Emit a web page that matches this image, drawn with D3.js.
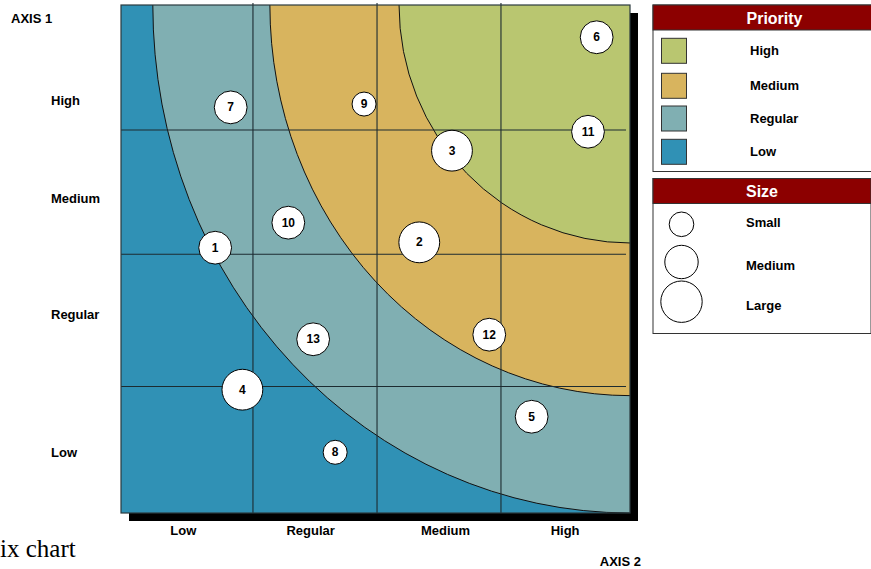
<!DOCTYPE html>
<html>
<head>
<meta charset="utf-8">
<script src="https://cdn.jsdelivr.net/npm/d3@7"></script>
<style>
  body { margin: 0; background: #fff; overflow: hidden; }
  svg { display: block; }
  text { font-family: "Liberation Sans", Arial, sans-serif; font-weight: bold; }
</style>
</head>
<body>
<svg id="chart" width="871" height="569"></svg>
<script>
// Category labels shared by both axes
const levels = ["Low", "Regular", "Medium", "High"];

// Priority zones, drawn from the outermost to the innermost
const priorityNames = ["High", "Medium", "Regular", "Low"];
const priorityColors = ["#B9C670", "#D8B45E", "#80AFB2", "#3091B5"];

// Each zone boundary is a quarter ellipse around the top-right corner:
// where it meets the top edge (axis 2 value) and the right edge (axis 1 value)
const zoneNames = ["Regular", "Medium", "High"];
const zoneTopX = [0.25, 1.17, 2.185];
const zoneSideY = [0.0, 0.924, 2.126];

// Grid dividers in axis units
const gridX = [1.037, 2.012, 2.986];
const gridY = [0.996, 2.037, 3.016];

// Where the category labels sit along each axis
const xLabelAt = [0.49, 1.49, 2.55, 3.49];
const yLabelAt = [0.48, 1.56, 2.48, 3.25];

// Items
const itemIds = [1, 2, 3, 4, 5, 6, 7, 8, 9, 10, 11, 12, 13];
const itemX = [0.740, 2.344, 2.601, 0.954, 3.227, 3.738, 0.862, 1.683, 1.910, 1.315, 3.670, 2.894, 1.510];
const itemY = [2.089, 2.131, 2.853, 0.971, 0.758, 3.746, 3.194, 0.478, 3.220, 2.286, 3.002, 1.404, 1.368];
const itemSize = ["Medium", "Large", "Large", "Large", "Medium", "Medium", "Medium", "Small", "Small", "Medium", "Medium", "Medium", "Medium"];
const sizeNames = ["Small", "Medium", "Large"];
const sizeRadii = [12, 16.4, 20.4];

const svg = d3.select("#chart");

const plot = { left: 121, top: 5, right: 630, bottom: 513 };
const x = d3.scaleLinear().domain([0, 4]).range([plot.left, plot.right]);
const y = d3.scaleLinear().domain([0, 4]).range([plot.bottom, plot.top]);
const colorOf = d3.scaleOrdinal().domain(priorityNames).range(priorityColors);
const radius = d3.scaleOrdinal().domain(sizeNames).range(sizeRadii);

// Caption
svg.append("text")
  .attr("x", 0).attr("y", 557)
  .style("font-family", "'Liberation Serif', 'Times New Roman', serif")
  .style("font-weight", "normal")
  .style("font-size", "25px")
  .attr("fill", "#000")
  .text("ix chart");

// Drop shadow
svg.append("rect")
  .attr("x", plot.left + 8).attr("y", plot.top + 8)
  .attr("width", plot.right - plot.left).attr("height", plot.bottom - plot.top)
  .attr("fill", "#000");

svg.append("clipPath").attr("id", "plotClip")
  .append("rect")
  .attr("x", plot.left).attr("y", plot.top)
  .attr("width", plot.right - plot.left).attr("height", plot.bottom - plot.top);

const area = svg.append("g").attr("clip-path", "url(#plotClip)");

// Base zone
area.append("rect")
  .attr("x", plot.left).attr("y", plot.top)
  .attr("width", plot.right - plot.left).attr("height", plot.bottom - plot.top)
  .attr("fill", colorOf("Low"));

// Elliptical zones around the top-right corner
const cx = x(4), cy = y(4);
zoneNames.forEach((name, i) => {
  const rx = cx - x(zoneTopX[i]);
  const ry = y(zoneSideY[i]) - cy;
  area.append("path")
    .attr("d", `M${cx - rx},${cy} A${rx},${ry} 0 0 0 ${cx},${cy + ry} L${cx},${cy} Z`)
    .attr("fill", colorOf(name))
    .attr("stroke", "none");
  area.append("path")
    .attr("d", `M${cx - rx},${cy} A${rx},${ry} 0 0 0 ${cx},${cy + ry}`)
    .attr("fill", "none")
    .attr("stroke", "#111")
    .attr("stroke-width", 1);
});

// Grid
svg.append("g").selectAll("line").data(gridX).join("line")
  .attr("x1", d => x(d)).attr("x2", d => x(d))
  .attr("y1", plot.top - 2).attr("y2", plot.bottom)
  .attr("stroke", "#1c2b30").attr("stroke-width", 1.1);
svg.append("g").selectAll("line").data(gridY).join("line")
  .attr("y1", d => y(d)).attr("y2", d => y(d))
  .attr("x1", plot.left).attr("x2", plot.right - 4)
  .attr("stroke", "#1c2b30").attr("stroke-width", 1.1);

// Plot frame
svg.append("rect")
  .attr("x", plot.left).attr("y", plot.top)
  .attr("width", plot.right - plot.left).attr("height", plot.bottom - plot.top)
  .attr("fill", "none").attr("stroke", "#2b3a3f").attr("stroke-width", 1.2);

// Axis labels
svg.append("g").selectAll("text").data(levels).join("text")
  .attr("x", (d, i) => x(xLabelAt[i])).attr("y", 530)
  .attr("text-anchor", "middle").attr("dominant-baseline", "central")
  .style("font-size", "13px").attr("fill", "#000")
  .text(d => d);
svg.append("g").selectAll("text").data(levels).join("text")
  .attr("x", 51).attr("y", (d, i) => y(yLabelAt[i]))
  .attr("text-anchor", "start").attr("dominant-baseline", "central")
  .style("font-size", "13px").attr("fill", "#000")
  .text(d => d);
svg.append("text")
  .attr("x", 11).attr("y", 18).attr("dominant-baseline", "central")
  .style("font-size", "13px").text("AXIS 1");
svg.append("text")
  .attr("x", 641).attr("y", 561).attr("text-anchor", "end").attr("dominant-baseline", "central")
  .style("font-size", "13px").text("AXIS 2");

// Bubbles
const items = itemIds.map((id, i) => ({ id, x: itemX[i], y: itemY[i], size: itemSize[i] }));
const bubble = svg.append("g").selectAll("g").data(items).join("g")
  .attr("transform", d => `translate(${x(d.x)},${y(d.y)})`);
bubble.append("circle")
  .attr("r", d => radius(d.size))
  .attr("fill", "#fff").attr("stroke", "#000").attr("stroke-width", 1);
bubble.append("text")
  .attr("text-anchor", "middle").attr("dominant-baseline", "central")
  .style("font-size", "12px").attr("fill", "#000")
  .text(d => d.id);

// Legend: Priority
const lx = 653;
const pri = svg.append("g");
pri.append("rect").attr("x", lx).attr("y", 5).attr("width", 243).attr("height", 166.5)
  .attr("fill", "#fff").attr("stroke", "#333").attr("stroke-width", 1);
pri.append("rect").attr("x", lx).attr("y", 5).attr("width", 243).attr("height", 25)
  .attr("fill", "#8C0000").attr("stroke", "#333").attr("stroke-width", 1);
pri.append("text").attr("x", lx + 121.5).attr("y", 18).attr("text-anchor", "middle")
  .attr("dominant-baseline", "central").style("font-size", "16px").attr("fill", "#fff")
  .text("Priority");
const priRows = [50.8, 85.8, 118.5, 151.8];
priorityNames.forEach((name, i) => {
  pri.append("rect").attr("x", 661.5).attr("y", priRows[i] - 12.5)
    .attr("width", 25).attr("height", 25)
    .attr("fill", colorOf(name)).attr("stroke", "#333").attr("stroke-width", 1);
  pri.append("text").attr("x", 750).attr("y", priRows[i])
    .attr("dominant-baseline", "central").style("font-size", "13px").text(name);
});

// Legend: Size
const sz = svg.append("g");
sz.append("rect").attr("x", lx).attr("y", 178.5).attr("width", 218).attr("height", 155)
  .attr("fill", "#fff").attr("stroke", "#333").attr("stroke-width", 1);
sz.append("rect").attr("x", lx).attr("y", 178.5).attr("width", 218).attr("height", 25)
  .attr("fill", "#8C0000").attr("stroke", "#333").attr("stroke-width", 1);
sz.append("text").attr("x", lx + 109).attr("y", 191.5).attr("text-anchor", "middle")
  .attr("dominant-baseline", "central").style("font-size", "16px").attr("fill", "#fff")
  .text("Size");
const sizeCircleRows = [224.3, 262, 301.7];
const sizeTextRows = [222.7, 265.3, 305.3];
sizeNames.forEach((name, i) => {
  sz.append("circle").attr("cx", 681.5).attr("cy", sizeCircleRows[i]).attr("r", radius(name) + 0.3)
    .attr("fill", "#fff").attr("stroke", "#000").attr("stroke-width", 1);
  sz.append("text").attr("x", 746).attr("y", sizeTextRows[i])
    .attr("dominant-baseline", "central").style("font-size", "13px").text(name);
});
</script>
</body>
</html>
